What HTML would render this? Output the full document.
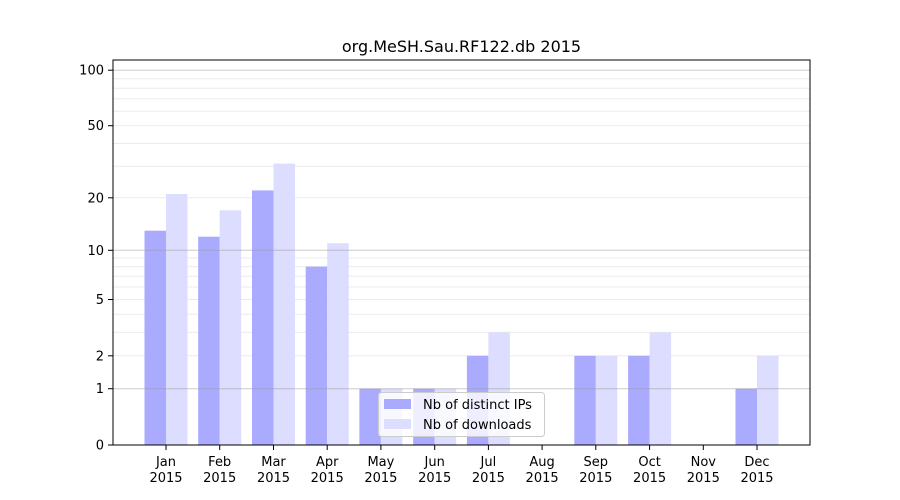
<!DOCTYPE html>
<html><head><meta charset="utf-8"><style>body{margin:0;background:#fff}svg{display:block;font-family:"DejaVu Sans","Liberation Sans",sans-serif}</style></head>
<body>
<svg width="900" height="500" xmlns="http://www.w3.org/2000/svg">
<rect width="900" height="500" fill="#fff"/>
<g stroke="#ebebeb" stroke-width="1">
<line x1="113" x2="810" y1="355.8" y2="355.8"/><line x1="113" x2="810" y1="332.4" y2="332.4"/><line x1="113" x2="810" y1="314.3" y2="314.3"/><line x1="113" x2="810" y1="299.5" y2="299.5"/><line x1="113" x2="810" y1="287" y2="287"/><line x1="113" x2="810" y1="276.2" y2="276.2"/><line x1="113" x2="810" y1="266.6" y2="266.6"/><line x1="113" x2="810" y1="258" y2="258"/>
<line x1="113" x2="810" y1="197.8" y2="197.8"/><line x1="113" x2="810" y1="166.2" y2="166.2"/><line x1="113" x2="810" y1="143.5" y2="143.5"/><line x1="113" x2="810" y1="125.7" y2="125.7"/><line x1="113" x2="810" y1="111.2" y2="111.2"/><line x1="113" x2="810" y1="98.9" y2="98.9"/><line x1="113" x2="810" y1="88.2" y2="88.2"/><line x1="113" x2="810" y1="78.7" y2="78.7"/>
</g>
<g fill="#aaaaff">
<rect x="144.5" y="230.7" width="21.5" height="214.3"/>
<rect x="198.2" y="236.7" width="21.5" height="208.3"/>
<rect x="252" y="190.4" width="21.5" height="254.6"/>
<rect x="305.7" y="266.6" width="21.5" height="178.4"/>
<rect x="359.4" y="388.7" width="21.5" height="56.3"/>
<rect x="413.2" y="388.7" width="21.5" height="56.3"/>
<rect x="466.9" y="355.8" width="21.5" height="89.2"/>
<rect x="574.3" y="355.8" width="21.5" height="89.2"/>
<rect x="628.1" y="355.8" width="21.5" height="89.2"/>
<rect x="735.5" y="388.7" width="21.5" height="56.3"/>
</g>
<g fill="#ddddff">
<rect x="166" y="194" width="21.5" height="251"/>
<rect x="219.7" y="210.3" width="21.5" height="234.7"/>
<rect x="273.5" y="163.6" width="21.5" height="281.4"/>
<rect x="327.2" y="243.2" width="21.5" height="201.8"/>
<rect x="380.9" y="388.7" width="21.5" height="56.3"/>
<rect x="434.7" y="388.7" width="21.5" height="56.3"/>
<rect x="488.4" y="332.4" width="21.5" height="112.6"/>
<rect x="595.8" y="355.8" width="21.5" height="89.2"/>
<rect x="649.6" y="332.4" width="21.5" height="112.6"/>
<rect x="757" y="355.8" width="21.5" height="89.2"/>
</g>
<g stroke="#999" stroke-opacity="0.5" stroke-width="1">
<line x1="113" x2="810" y1="388.7" y2="388.7"/><line x1="113" x2="810" y1="250.3" y2="250.3"/><line x1="113" x2="810" y1="70.2" y2="70.2"/>
</g>
<rect x="113" y="60" width="697" height="385" fill="none" stroke="#000" stroke-width="1"/>
<g stroke="#000">
<line x1="108" x2="113" y1="445" y2="445"/><line x1="108" x2="113" y1="388.7" y2="388.7"/><line x1="108" x2="113" y1="355.8" y2="355.8"/><line x1="108" x2="113" y1="299.5" y2="299.5"/><line x1="108" x2="113" y1="250.3" y2="250.3"/><line x1="108" x2="113" y1="197.8" y2="197.8"/><line x1="108" x2="113" y1="125.7" y2="125.7"/><line x1="108" x2="113" y1="70.2" y2="70.2"/>
<line x1="166" x2="166" y1="445" y2="450"/><line x1="219.7" x2="219.7" y1="445" y2="450"/><line x1="273.5" x2="273.5" y1="445" y2="450"/><line x1="327.2" x2="327.2" y1="445" y2="450"/><line x1="380.9" x2="380.9" y1="445" y2="450"/><line x1="434.7" x2="434.7" y1="445" y2="450"/><line x1="488.4" x2="488.4" y1="445" y2="450"/><line x1="542.1" x2="542.1" y1="445" y2="450"/><line x1="595.8" x2="595.8" y1="445" y2="450"/><line x1="649.6" x2="649.6" y1="445" y2="450"/><line x1="703.3" x2="703.3" y1="445" y2="450"/><line x1="757" x2="757" y1="445" y2="450"/>
</g>
<g font-size="13" text-anchor="end" fill="#000">
<text x="104" y="449.5">0</text><text x="104" y="393.2">1</text><text x="104" y="360.3">2</text><text x="104" y="304">5</text><text x="104" y="254.8">10</text><text x="104" y="202.3">20</text><text x="104" y="130.2">50</text><text x="104" y="74.7">100</text>
</g>
<g font-size="13" text-anchor="middle" fill="#000">
<text x="166" y="466">Jan</text><text x="166" y="482">2015</text>
<text x="219.7" y="466">Feb</text><text x="219.7" y="482">2015</text>
<text x="273.5" y="466">Mar</text><text x="273.5" y="482">2015</text>
<text x="327.2" y="466">Apr</text><text x="327.2" y="482">2015</text>
<text x="380.9" y="466">May</text><text x="380.9" y="482">2015</text>
<text x="434.7" y="466">Jun</text><text x="434.7" y="482">2015</text>
<text x="488.4" y="466">Jul</text><text x="488.4" y="482">2015</text>
<text x="542.1" y="466">Aug</text><text x="542.1" y="482">2015</text>
<text x="595.8" y="466">Sep</text><text x="595.8" y="482">2015</text>
<text x="649.6" y="466">Oct</text><text x="649.6" y="482">2015</text>
<text x="703.3" y="466">Nov</text><text x="703.3" y="482">2015</text>
<text x="757" y="466">Dec</text><text x="757" y="482">2015</text>
</g>
<text x="461.5" y="52" font-size="16" text-anchor="middle">org.MeSH.Sau.RF122.db 2015</text>
<rect x="378.5" y="392.5" width="166" height="44" rx="3" fill="#fff" fill-opacity="0.8" stroke="#ccc"/>
<rect x="384" y="399" width="27" height="10" fill="#aaaaff"/>
<rect x="384" y="419" width="27" height="10" fill="#ddddff"/>
<text x="423" y="409" font-size="13">Nb of distinct IPs</text>
<text x="423" y="429" font-size="13">Nb of downloads</text>
</svg>
</body></html>
